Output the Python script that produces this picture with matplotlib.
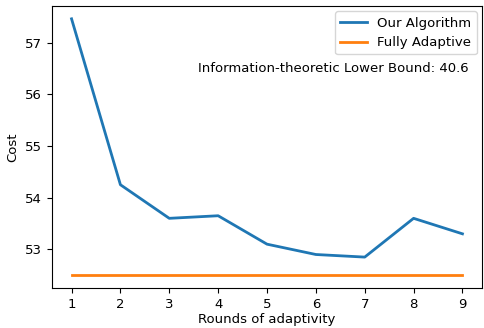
import matplotlib
matplotlib.use("Agg")
import matplotlib.pyplot as plt

rounds = [1, 2, 3, 4, 5, 6, 7, 8, 9]
our_algorithm = [57.46, 54.25, 53.6, 53.65, 53.1, 52.9, 52.85, 53.6, 53.3]
fully_adaptive = [52.5, 52.5, 52.5, 52.5, 52.5, 52.5, 52.5, 52.5, 52.5]
lower_bound = 40.6

plt.rcParams['font.size'] = 9.5

fig = plt.figure(figsize=(4.84, 3.28), dpi=100)
ax = fig.add_axes([52 / 484, 40 / 328, 430 / 484, 282 / 328])

ax.plot(rounds, our_algorithm, color='#1f77b4', linewidth=2, label='Our Algorithm')
ax.plot(rounds, fully_adaptive, color='#ff7f0e', linewidth=2, label='Fully Adaptive')
ax.text(0.97, 0.78, 'Information-theoretic Lower Bound: %.1f' % lower_bound,
        transform=ax.transAxes, ha='right', va='center')

ax.set_xticks(rounds)
ax.set_yticks([53, 54, 55, 56, 57])
ax.set_xlabel('Rounds of adaptivity', labelpad=2)
ax.set_ylabel('Cost')
ax.legend(loc='upper right', borderaxespad=0.4)

fig.savefig('out.png', dpi=100)
